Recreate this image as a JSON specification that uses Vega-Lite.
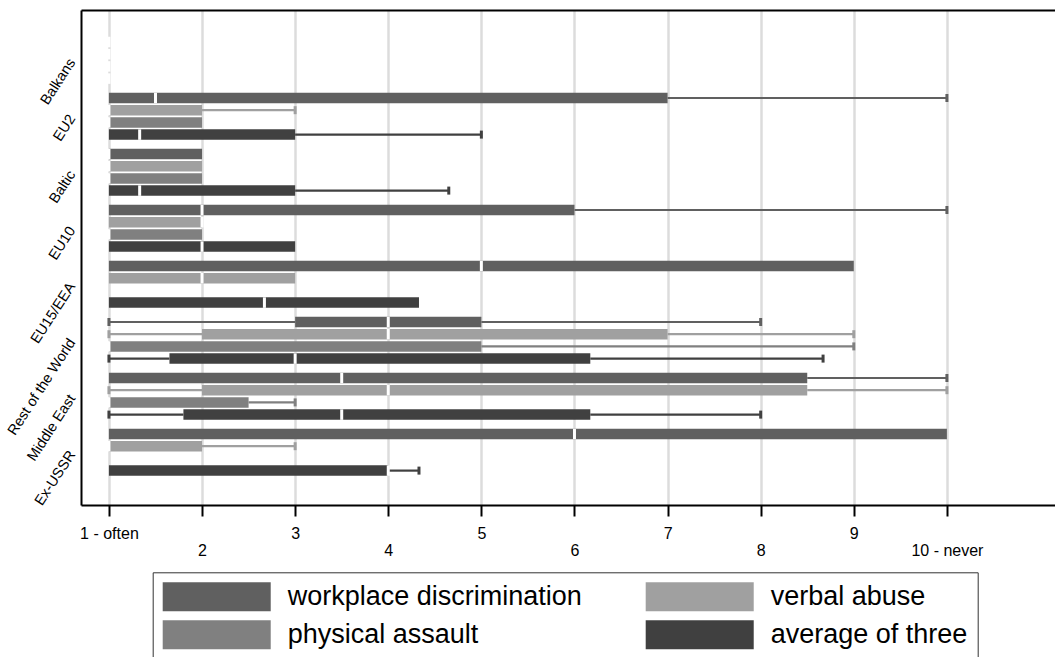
{
  "$schema": "https://vega.github.io/schema/vega-lite/v6.json",
  "width": 974,
  "height": 495,
  "autosize": {"type": "none"},
  "padding": {"left": 81, "top": 10, "right": 0, "bottom": 152},
  "background": "white",
  "config": {
    "view": {"stroke": null},
    "font": "Liberation Sans",
    "axis": {"labelFont": "Liberation Sans", "labelColor": "#000"}
  },
  "data": {
    "values": [
      {"region": "Balkans", "type": "workplace discrimination", "lo": 1, "q1": 1, "med": 1, "q3": 1, "hi": 1},
      {"region": "Balkans", "type": "verbal abuse", "lo": 1, "q1": 1, "med": 1, "q3": 1, "hi": 1},
      {"region": "Balkans", "type": "physical assault", "lo": 1, "q1": 1, "med": 1, "q3": 1, "hi": 1},
      {"region": "Balkans", "type": "average of three", "lo": 1, "q1": 1, "med": 1, "q3": 1, "hi": 1},
      {"region": "EU2", "type": "workplace discrimination", "lo": 1, "q1": 1, "med": 1.5, "q3": 7, "hi": 10},
      {"region": "EU2", "type": "verbal abuse", "lo": 1, "q1": 1, "med": 1, "q3": 2, "hi": 3},
      {"region": "EU2", "type": "physical assault", "lo": 1, "q1": 1, "med": 1, "q3": 2, "hi": 2},
      {"region": "EU2", "type": "average of three", "lo": 1, "q1": 1, "med": 1.33, "q3": 3, "hi": 5},
      {"region": "Baltic", "type": "workplace discrimination", "lo": 1, "q1": 1, "med": 1, "q3": 2, "hi": 2},
      {"region": "Baltic", "type": "verbal abuse", "lo": 1, "q1": 1, "med": 1, "q3": 2, "hi": 2},
      {"region": "Baltic", "type": "physical assault", "lo": 1, "q1": 1, "med": 1, "q3": 2, "hi": 2},
      {"region": "Baltic", "type": "average of three", "lo": 1, "q1": 1, "med": 1.33, "q3": 3, "hi": 4.65},
      {"region": "EU10", "type": "workplace discrimination", "lo": 1, "q1": 1, "med": 2, "q3": 6, "hi": 10},
      {"region": "EU10", "type": "verbal abuse", "lo": 1, "q1": 1, "med": 2, "q3": 2, "hi": 2},
      {"region": "EU10", "type": "physical assault", "lo": 1, "q1": 1, "med": 1, "q3": 2, "hi": 2},
      {"region": "EU10", "type": "average of three", "lo": 1, "q1": 1, "med": 2, "q3": 3, "hi": 3},
      {"region": "EU15/EEA", "type": "workplace discrimination", "lo": 1, "q1": 1, "med": 5, "q3": 9, "hi": 9},
      {"region": "EU15/EEA", "type": "verbal abuse", "lo": 1, "q1": 1, "med": 2, "q3": 3, "hi": 3},
      {"region": "EU15/EEA", "type": "average of three", "lo": 1, "q1": 1, "med": 2.67, "q3": 4.33, "hi": 4.33},
      {"region": "Rest of the World", "type": "workplace discrimination", "lo": 1, "q1": 3, "med": 4, "q3": 5, "hi": 8},
      {"region": "Rest of the World", "type": "verbal abuse", "lo": 1, "q1": 2, "med": 4, "q3": 7, "hi": 9},
      {"region": "Rest of the World", "type": "physical assault", "lo": 1, "q1": 1, "med": 1, "q3": 5, "hi": 9},
      {"region": "Rest of the World", "type": "average of three", "lo": 1, "q1": 1.65, "med": 3, "q3": 6.17, "hi": 8.67},
      {"region": "Middle East", "type": "workplace discrimination", "lo": 1, "q1": 1, "med": 3.5, "q3": 8.5, "hi": 10},
      {"region": "Middle East", "type": "verbal abuse", "lo": 1, "q1": 2, "med": 4, "q3": 8.5, "hi": 10},
      {"region": "Middle East", "type": "physical assault", "lo": 1, "q1": 1, "med": 1, "q3": 2.5, "hi": 3},
      {"region": "Middle East", "type": "average of three", "lo": 1, "q1": 1.8, "med": 3.5, "q3": 6.17, "hi": 8},
      {"region": "Ex-USSR", "type": "workplace discrimination", "lo": 1, "q1": 1, "med": 6, "q3": 10, "hi": 10},
      {"region": "Ex-USSR", "type": "verbal abuse", "lo": 1, "q1": 1, "med": 1, "q3": 2, "hi": 3},
      {"region": "Ex-USSR", "type": "average of three", "lo": 1, "q1": 1, "med": 4, "q3": 4, "hi": 4.33}
    ]
  },
  "encoding": {
    "y": {
      "field": "region",
      "type": "nominal",
      "sort": ["Balkans", "EU2", "Baltic", "EU10", "EU15/EEA", "Rest of the World", "Middle East", "Ex-USSR"],
      "scale": {
        "domain": ["Balkans", "EU2", "Baltic", "EU10", "EU15/EEA", "Rest of the World", "Middle East", "Ex-USSR"],
        "paddingInner": 0.159,
        "paddingOuter": 0.499,
        "align": 0.4785
      },
      "axis": {
        "title": null,
        "ticks": false,
        "domain": true,
        "domainColor": "#000",
        "domainWidth": 2,
        "grid": false,
        "labelAngle": -57,
        "labelAlign": "right",
        "labelBaseline": "middle",
        "labelFontSize": 14.5,
        "labelPadding": 9,
        "labelColor": "#000"
      }
    },
    "yOffset": {
      "field": "type",
      "type": "nominal",
      "sort": ["workplace discrimination", "verbal abuse", "physical assault", "average of three"],
      "scale": {
        "domain": ["workplace discrimination", "verbal abuse", "physical assault", "average of three"],
        "paddingInner": 0.14,
        "paddingOuter": 0
      }
    }
  },
  "layer": [
    {
      "mark": {"type": "bar", "opacity": 1},
      "encoding": {
        "x": {
          "field": "q1",
          "type": "quantitative",
          "scale": {"domain": [0.7, 11.161], "nice": false, "zero": false},
          "axis": {
            "title": null,
            "orient": "bottom",
            "values": [1, 2, 3, 4, 5, 6, 7, 8, 9, 10],
            "labelExpr": "datum.value == 1 ? '1 - often' : datum.value == 10 ? '10 - never' : datum.label",
            "labelFontSize": 16,
            "labelPadding": {"condition": {"test": "datum.value % 2 == 0", "value": 26}, "value": 9.5},
            "labelBaseline": "top",
            "labelOverlap": false,
            "labelFlush": false,
            "domainColor": "#000",
            "domainWidth": 2,
            "tickColor": "#000",
            "tickWidth": 2,
            "tickSize": 11,
            "grid": true,
            "gridColor": "#dcdcdc",
            "gridWidth": 2.5
          }
        },
        "x2": {"field": "q3"},
        "color": {
          "field": "type",
          "type": "nominal",
          "scale": {
            "domain": ["workplace discrimination", "verbal abuse", "physical assault", "average of three"],
            "range": ["#606060", "#a0a0a0", "#808080", "#404040"]
          },
          "legend": {
            "title": null,
            "orient": "none",
            "legendX": 71.7,
            "legendY": 562.3,
            "direction": "horizontal",
            "columns": 2,
            "symbolType": "M-1,-1H6.45V1H-1Z",
            "symbolSize": 841,
            "symbolStrokeWidth": 0,
            "symbolOpacity": 1,
            "labelFontSize": 27,
            "labelFont": "Liberation Sans",
            "labelColor": "#000",
            "labelOffset": 96,
            "labelLimit": 600,
            "columnPadding": 63,
            "rowPadding": 9,
            "padding": 10,
            "strokeColor": "#333",
            "fillColor": "white"
          }
        }
      }
    },
    {
      "transform": [{"filter": "datum.hi > datum.q3"}],
      "mark": {"type": "rule", "strokeWidth": 2.2},
      "encoding": {
        "x": {"field": "q3", "type": "quantitative", "axis": null},
        "x2": {"field": "hi"},
        "color": {"field": "type", "type": "nominal", "legend": null}
      }
    },
    {
      "transform": [{"filter": "datum.lo < datum.q1"}],
      "mark": {"type": "rule", "strokeWidth": 2.2},
      "encoding": {
        "x": {"field": "lo", "type": "quantitative", "axis": null},
        "x2": {"field": "q1"},
        "color": {"field": "type", "type": "nominal", "legend": null}
      }
    },
    {
      "transform": [{"filter": "datum.hi > datum.q3"}],
      "mark": {"type": "tick", "thickness": 3, "size": 8, "opacity": 1},
      "encoding": {
        "x": {"field": "hi", "type": "quantitative", "axis": null},
        "color": {"field": "type", "type": "nominal", "legend": null}
      }
    },
    {
      "transform": [{"filter": "datum.lo < datum.q1"}],
      "mark": {"type": "tick", "thickness": 3, "size": 8, "opacity": 1},
      "encoding": {
        "x": {"field": "lo", "type": "quantitative", "axis": null},
        "color": {"field": "type", "type": "nominal", "legend": null}
      }
    },
    {
      "mark": {"type": "tick", "thickness": 3, "size": 10.5, "color": "white", "opacity": 1},
      "encoding": {
        "x": {
          "field": "med",
          "type": "quantitative",
          "axis": {
            "orient": "top",
            "title": null,
            "labels": false,
            "ticks": false,
            "grid": false,
            "domain": true,
            "domainColor": "#000",
            "domainWidth": 2
          }
        }
      }
    }
  ],
  "resolve": {"axis": {"x": "independent"}}
}
